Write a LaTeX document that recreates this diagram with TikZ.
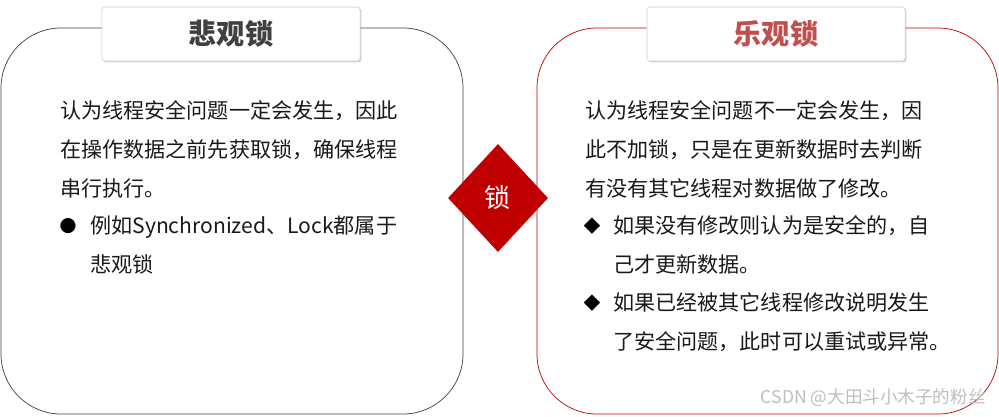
\documentclass[tikz,border=0pt]{standalone}
\usepackage{fontspec}
\setmainfont{Noto Sans CJK SC}
\usetikzlibrary{positioning,shapes.geometric,shadows}
\definecolor{lockred}{HTML}{C00000}
\definecolor{titlered}{HTML}{C0504D}
\definecolor{darkgray}{HTML}{404040}
\tikzset{
  card/.style={rounded corners=1.5cm,line width=0.5pt},
  titlebox/.style={draw=gray!40,fill=white,rounded corners=2pt,minimum width=6.45cm,minimum height=1.35cm,
    drop shadow={shadow xshift=1pt,shadow yshift=-1pt,opacity=0.35},font=\fontsize{20}{24}\selectfont\bfseries},
  txt/.style={anchor=west,align=left,inner sep=0pt,font=\fontsize{15}{27.7}\selectfont,text=black!90},
  dot/.style={inner sep=0pt,font=\fontsize{12}{15}\selectfont}
}
\begin{document}
\begin{tikzpicture}[x=0.025cm,y=-0.025cm]
  \useasboundingbox[fill=white] (0,0) rectangle (999,416);
  % two cards
  \draw[card,draw=darkgray] (1,28) rectangle (463,414);
  \draw[card,draw=lockred] (537,28) rectangle (998,414);
  \node[titlebox,text=darkgray] (pess) at (231,34) {悲观锁};
  \node[titlebox,text=titlered] (opti) at (776,34) {乐观锁};
  % middle diamond
  \node[diamond,fill=lockred,text=white,minimum width=2.5cm,minimum height=2.7cm,inner sep=0pt,
    font=\fontsize{18.5}{20}\selectfont] (lock) at (498,198) {锁};
  % left text
  \node[txt] (ptext) at (60,149) {认为线程安全问题一定会发生，因此\\在操作数据之前先获取锁，确保线程\\串行执行。};
  \node[dot] (pdot) at (68,226) {●};
  \node[txt] (pitem) at (90,245) {例如Synchronized、Lock都属于\\悲观锁};
  % right text
  \node[txt] (otext) at (585,149) {认为线程安全问题不一定会发生，因\\此不加锁，只是在更新数据时去判断\\有没有其它线程对数据做了修改。};
  \node[dot] (odot1) at (592,226) {◆};
  \node[txt] (oitem1) at (613,245) {如果没有修改则认为是安全的，自\\己才更新数据。};
  \node[dot] (odot2) at (592,303) {◆};
  \node[txt] (oitem2) at (613,322) {如果已经被其它线程修改说明发生\\了安全问题，此时可以重试或异常。};
  \node[anchor=east,inner sep=0pt,text=gray!50,font=\fontsize{12.5}{14}\selectfont] (mark) at (986,398) {CSDN @大田斗小木子的粉丝};
\end{tikzpicture}
\end{document}
